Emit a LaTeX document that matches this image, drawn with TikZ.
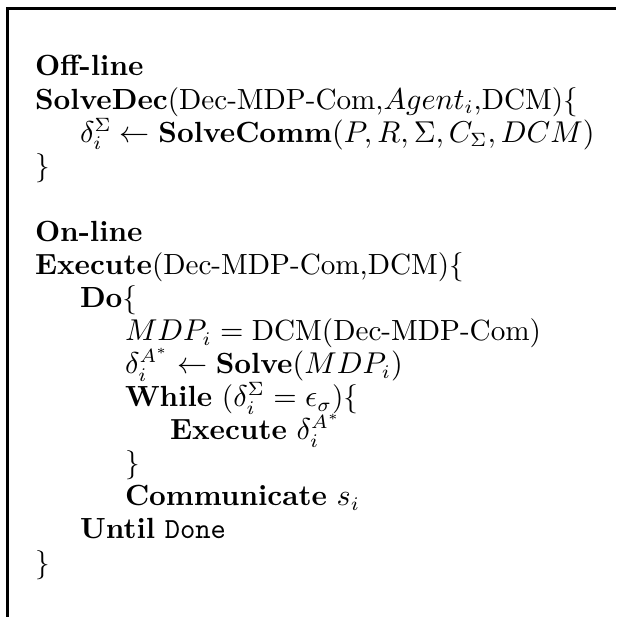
\documentclass[tikz,border=0pt]{standalone}
\usepackage{amsmath}
\begin{document}
\begin{tikzpicture}[x=0.36364pt,y=-0.36364pt,
  codeline/.style={anchor=base west,inner sep=0pt,outer sep=0pt,font=\fontsize{10.6pt}{12.7pt}\selectfont},
  frame/.style={line width=1pt,line join=miter}]
\useasboundingbox (0,0) rectangle (616,617);
% open frame: top and left rules only
\coordinate (fb) at (7.3,617);
\coordinate (fc) at (7.3,8.7);
\coordinate (fr) at (616,8.7);
\draw[frame] (fb) -- (fc) -- (fr);
% indentation levels and line pitch
\def\lvA{35}\def\lvB{80}\def\lvC{125}\def\lvD{170}
\def\pitch{33.07}
\node[codeline] (l1)  at (\lvA,{76+0*\pitch})  {\textbf{Off-line}};
\node[codeline] (l2)  at (\lvA,{76+1*\pitch})  {\textbf{SolveDec}(Dec-MDP-Com,$Agent_i$,DCM)\{};
\node[codeline] (l3)  at (\lvB,{76+2*\pitch})  {$\delta_i^{\Sigma} \leftarrow \textbf{SolveComm}(P,R,\Sigma,C_{\Sigma},DCM)$};
\node[codeline] (l4)  at (\lvA,{76+3*\pitch})  {\}};
\node[codeline] (l6)  at (\lvA,{76+5*\pitch})  {\textbf{On-line}};
\node[codeline] (l7)  at (\lvA,{76+6*\pitch})  {\textbf{Execute}(Dec-MDP-Com,DCM)\{};
\node[codeline] (l8)  at (\lvB,{76+7*\pitch})  {\textbf{Do}\{};
\node[codeline] (l9)  at (\lvC,{76+8*\pitch})  {$MDP_i = \mbox{DCM(Dec-MDP-Com)}$};
\node[codeline] (l10) at (\lvC,{76+9*\pitch})  {$\delta_i^{A^*} \leftarrow \textbf{Solve}(MDP_i)$};
\node[codeline] (l11) at (\lvC,{76+10*\pitch}) {\textbf{While} ($\delta_i^{\Sigma} = \epsilon_{\sigma}$)\{};
\node[codeline] (l12) at (\lvD,{76+11*\pitch}) {\textbf{Execute} $\delta_i^{A^*}$};
\node[codeline] (l13) at (\lvC,{76+12*\pitch}) {\}};
\node[codeline] (l14) at (\lvC,{76+13*\pitch}) {\textbf{Communicate} $s_i$};
\node[codeline] (l15) at (\lvB,{76+14*\pitch}) {\textbf{Until} \texttt{Done}};
\node[codeline] (l16) at (\lvA,{76+15*\pitch}) {\}};
\end{tikzpicture}
\end{document}
